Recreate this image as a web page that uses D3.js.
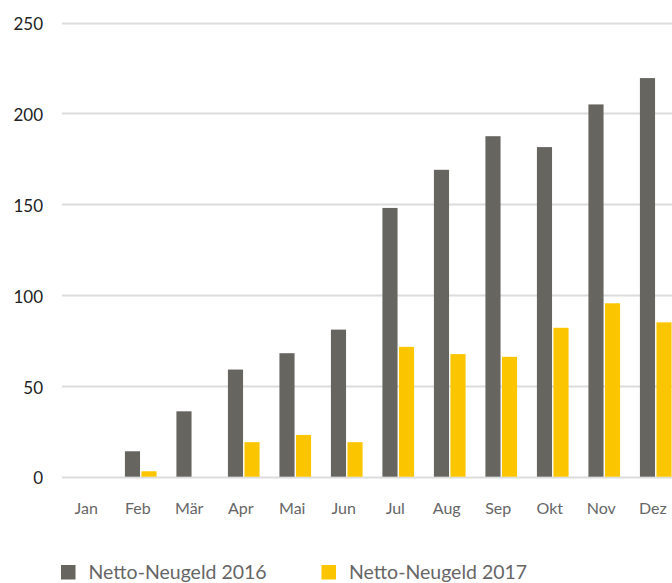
<!DOCTYPE html>
<html>
<head>
<meta charset="utf-8">
<script src="https://cdn.jsdelivr.net/npm/d3@7"></script>
<style>
  html, body { margin: 0; padding: 0; background: #fff; }
  svg { display: block; font-family: "Lato", "Open Sans", sans-serif; }
</style>
</head>
<body>
<svg id="chart" width="672" height="583"></svg>
<script>
const months = ["Jan","Feb","Mär","Apr","Mai","Jun","Jul","Aug","Sep","Okt","Nov","Dez"];
const values2016 = [0, 14, 36, 59, 68, 81, 148, 169, 187.5, 181.5, 205, 219.5];
const values2017 = [0, 3, 0, 19, 23, 19, 71.5, 67.5, 66, 82, 95.5, 85];
const seriesNames = ["Netto-Neugeld 2016", "Netto-Neugeld 2017"];
const seriesColors = ["#666560", "#fbc600"];
const yTicks = [0, 50, 100, 150, 200, 250];

const svg = d3.select("#chart");
const W = 672;

const x = d3.scaleBand().domain(months).range([63.5, 681.5]).paddingInner(0).paddingOuter(0);
const y = d3.scaleLinear().domain([0, 250]).range([476.7, 22.7]);
const xs = d3.scaleBand().domain([0, 1]).range([0, x.bandwidth()]).paddingInner(0.085).paddingOuter(0.6);

// gridlines
const yAxis = d3.axisLeft(y).tickValues(yTicks).tickSize(0).tickPadding(0).tickFormat(d3.format("d"));
const gy = svg.append("g").attr("transform", "translate(62,0)");
gy.selectAll("line.grid").data(yTicks).join("line")
  .attr("class", "grid")
  .attr("x1", 0).attr("x2", W)
  .attr("y1", d => Math.round(y(d)) + 0.5).attr("y2", d => Math.round(y(d)) + 0.5)
  .attr("stroke", "#dcdcdc").attr("stroke-width", 2);
const ya = svg.append("g").attr("transform", "translate(43,0)").call(yAxis);
ya.select(".domain").remove();
ya.selectAll("text").attr("font-size", 17).attr("fill", "#222").attr("dy", "0.42em")
  .attr("font-family", "Lato, sans-serif");

// bars
const data = months.map((m, i) => ({ m, v: [values2016[i], values2017[i]] }));
const groups = svg.append("g").selectAll("g").data(data).join("g")
  .attr("transform", d => `translate(${x(d.m)},0)`);
groups.selectAll("rect").data(d => d.v.map((v, k) => ({ v, k }))).join("rect")
  .attr("x", d => xs(d.k))
  .attr("width", xs.bandwidth())
  .attr("y", d => y(d.v))
  .attr("height", d => y(0) - y(d.v))
  .attr("fill", d => seriesColors[d.k]);

// x axis labels
const xAxis = d3.axisBottom(x).tickSize(0).tickPadding(0);
const xa = svg.append("g").attr("transform", "translate(-3,514)").call(xAxis);
xa.select(".domain").remove();
xa.selectAll("text").attr("font-size", 16).attr("fill", "#666").attr("dy", 0)
  .attr("font-family", "Lato, sans-serif");

// legend
const legendX = [61, 321.5];
const lg = svg.append("g").selectAll("g").data(seriesNames).join("g")
  .attr("transform", (d, i) => `translate(${legendX[i]},564)`);
lg.append("rect").attr("y", 1).attr("width", 14.5).attr("height", 14.5).attr("fill", (d, i) => seriesColors[i]);
lg.append("text").attr("x", 27.5).attr("y", 14.5).text(d => d)
  .attr("font-size", 19.5).attr("fill", "#666");
</script>
</body>
</html>
